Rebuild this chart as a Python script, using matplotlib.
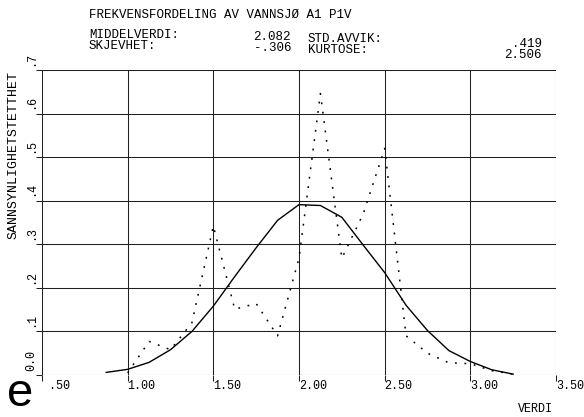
import matplotlib
matplotlib.use("Agg")
import matplotlib.pyplot as plt
from matplotlib.transforms import blended_transform_factory

# ---- data ----
bin_x = [0.875, 1.0, 1.125, 1.25, 1.375, 1.5, 1.625, 1.75, 1.875, 2.0,
         2.125, 2.25, 2.375, 2.5, 2.625, 2.75, 2.875, 3.0, 3.125, 3.25]
fitted = [0.006, 0.013, 0.029, 0.058, 0.100, 0.158, 0.226, 0.292, 0.355, 0.391,
          0.389, 0.362, 0.298, 0.235, 0.160, 0.102, 0.056, 0.031, 0.012, 0.002]
obs_x = bin_x[1:]
observed = [0.005, 0.077, 0.058, 0.120, 0.342, 0.151, 0.164, 0.090, 0.268, 0.646,
            0.268, 0.370, 0.520, 0.090, 0.050, 0.028, 0.026, 0.010, 0.002]

x_ticks = [0.5, 1.0, 1.5, 2.0, 2.5, 3.0, 3.5]
x_tick_labels = [" .50", "1.00", "1.50", "2.00", "2.50", "3.00", "3.50"]
y_ticks = [0.0, 0.1, 0.2, 0.3, 0.4, 0.5, 0.6, 0.7]
y_tick_labels = ["0.0", ".1", ".2", ".3", ".4", ".5", ".6", ".7"]

title = "FREKVENSFORDELING AV VANNSJØ A1 P1V"
stat_names_left = ["MIDDELVERDI:", "SKJEVHET:"]
stat_vals_left = ["2.082", "-.306"]
stat_names_right = ["STD.AVVIK:", "KURTOSE:"]
stat_vals_right = [".419", "2.506"]

W, H = 584, 417
fig = plt.figure(figsize=(W / 100, H / 100), dpi=100)
fig.patch.set_facecolor("white")

def px(x, y):
    return x / W, 1 - y / H

ax = fig.add_axes([42 / W, 1 - 375 / H, (556 - 42) / W, (375 - 70) / H])
ax.set_xlim(0.5, 3.5)
ax.set_ylim(0.0, 0.7)

grid_kw = dict(color="0.12", lw=0.75, zorder=1)
for xv in x_ticks:
    ax.axvline(xv, **grid_kw)
for yv in y_ticks:
    ax.axhline(yv, **grid_kw)
for s in ax.spines.values():
    s.set_visible(False)

ax.plot(bin_x, fitted, color="black", lw=1.0, zorder=3)
ax.plot(obs_x, observed, color="black", lw=1.1, linestyle=(0, (1.2, 5.0)), zorder=3)

ax.set_xticks(x_ticks)
ax.set_yticks(y_ticks)
ax.tick_params(direction="out", length=4, width=0.75, color="0.12",
               labelleft=False, labelbottom=False)

font = "Liberation Mono"
fs = 8.5
trx = blended_transform_factory(ax.transData, fig.transFigure)
for xv, lab in zip(x_ticks, x_tick_labels):
    ax.text(xv, 1 - 386 / H, lab, transform=trx, ha="left", va="center",
            fontsize=fs, family=font, clip_on=False)
try_ = blended_transform_factory(fig.transFigure, ax.transData)
for yv, lab in zip(y_ticks, y_tick_labels):
    ax.text(31 / W, yv + 0.01, lab, transform=try_, ha="center", va="bottom",
            rotation=90, fontsize=fs, family=font, clip_on=False)

fig.text(*px(14, 155), "SANNSYNLIGHETSTETTHET", rotation=90, ha="center",
         va="center", fontsize=9.5, family=font)
fig.text(*px(553, 409), "VERDI", ha="right", va="center", fontsize=fs, family=font)

hs = 9
fig.text(*px(89, 15), title, ha="left", va="center", fontsize=hs, family=font)
fig.text(*px(89, 40.5), "\n".join(stat_names_left), ha="left", va="center",
         fontsize=hs, family=font, linespacing=0.8)
fig.text(*px(291, 42.5), "\n".join(stat_vals_left), ha="right", va="center",
         multialignment="right", fontsize=hs, family=font, linespacing=0.8)
fig.text(*px(308, 44.5), "\n".join(stat_names_right), ha="left", va="center",
         fontsize=hs, family=font, linespacing=0.8)
fig.text(*px(542, 49.5), "\n".join(stat_vals_right), ha="right", va="center",
         multialignment="right", fontsize=hs, family=font, linespacing=0.8)

fig.text(*px(20, 394), "e", ha="center", va="center", fontsize=34,
         family="Liberation Sans")

fig.savefig("out.png", dpi=100, facecolor="white")
